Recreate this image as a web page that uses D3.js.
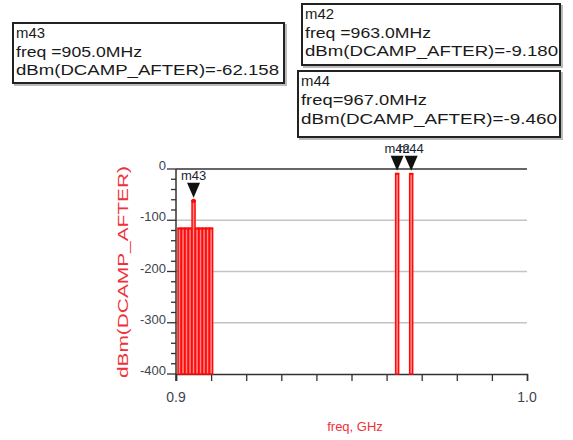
<!DOCTYPE html>
<html>
<head>
<meta charset="utf-8">
<script src="https://cdn.jsdelivr.net/npm/d3@7"></script>
<style>
  body { margin: 0; background: #fff; }
  svg { display: block; font-family: Arial, "Liberation Sans", sans-serif; }
</style>
</head>
<body>
<script>
// spectrum lines (GHz, dBm)
var freqs = [0.901, 0.902, 0.903, 0.904, 0.905, 0.906, 0.907, 0.908, 0.909, 0.910, 0.963, 0.967];
var levels = [-116, -116, -116, -116, -62.158, -116, -116, -116, -116, -116, -9.18, -9.46];

// markers
var markerNames = ['m43', 'm42', 'm44'];
var markerFreqs = [0.905, 0.963, 0.967];
var markerLevels = [-62.158, -9.18, -9.46];

var xTicks = [0.9, 1.0];
var yTicks = [0, -100, -200, -300, -400];

var W = 573, H = 440;
var svg = d3.select('body').append('svg').attr('width', W).attr('height', H);

var x = d3.scaleLinear().domain([0.9, 1.0]).range([176, 527]);
var y = d3.scaleLinear().domain([0, -400]).range([169, 374]);

//-------- grid + frame --------
svg.selectAll('.grid').data([-100, -200, -300]).enter().append('line')
  .attr('x1', x(0.9)).attr('x2', x(1.0))
  .attr('y1', function(d) { return y(d); }).attr('y2', function(d) { return y(d); })
  .attr('stroke', '#c4c4c4').attr('stroke-width', 1.3);

svg.append('line').attr('x1', x(0.9)).attr('x2', x(1.0)).attr('y1', y(0)).attr('y2', y(0))
  .attr('stroke', '#333').attr('stroke-width', 1.5);

// x axis
var xAxis = d3.axisBottom(x).tickValues(d3.range(0, 11).map(function(i) { return 0.9 + i * 0.01; }))
  .tickSize(7).tickFormat('');
var gx = svg.append('g').attr('transform', 'translate(0,' + y(-400) + ')').call(xAxis);
gx.select('.domain').attr('stroke', '#333').attr('stroke-width', 1.5);
gx.selectAll('.tick line').attr('stroke', '#333').attr('stroke-width', 1.3);

svg.selectAll('.xlab').data(xTicks).enter().append('text')
  .attr('x', function(d) { return x(d); }).attr('y', 402)
  .attr('text-anchor', 'middle').attr('font-size', 14).attr('fill', '#3d4450')
  .text(function(d) { return d3.format('.1f')(d); });

// y axis
var yMinor = d3.range(0, 21).map(function(i) { return -i * 20; });
svg.append('line').attr('x1', x(0.9)).attr('x2', x(0.9)).attr('y1', y(0)).attr('y2', y(-400) + 7)
  .attr('stroke', '#333').attr('stroke-width', 1.5);
svg.selectAll('.ytick').data(yMinor).enter().append('line')
  .attr('x1', function(d) { return x(0.9) - (d % 100 === 0 ? 9 : 5); }).attr('x2', x(0.9))
  .attr('y1', function(d) { return y(d); }).attr('y2', function(d) { return y(d); })
  .attr('stroke', '#333').attr('stroke-width', 1.3);
svg.selectAll('.ylab').data(yTicks).enter().append('text')
  .attr('x', x(0.9) - 10).attr('y', function(d) { return y(d) + 1; })
  .attr('text-anchor', 'end').attr('font-size', 13).attr('fill', '#3d4450')
  .text(function(d) { return d; });

// axis titles
svg.append('text').attr('x', 355).attr('y', 431).attr('text-anchor', 'middle')
  .attr('font-size', 13).attr('fill', '#f0303a').text('freq, GHz');
svg.append('text').attr('transform', 'translate(128,272) rotate(-90)').attr('text-anchor', 'middle')
  .attr('font-size', 14).attr('fill', '#f0303a')
  .attr('textLength', 212).attr('lengthAdjust', 'spacingAndGlyphs').text('dBm(DCAMP_AFTER)');

//-------- spectrum stems --------
var stems = freqs.map(function(f, i) { return { f: f, v: levels[i] }; });
svg.selectAll('.stem').data(stems).enter().append('rect')
  .attr('x', function(d) { return x(d.f) - 1.5; }).attr('width', 3)
  .attr('y', function(d) { return y(d.v); }).attr('height', function(d) { return y(-400) - y(d.v); })
  .attr('fill', '#ff8a8a').attr('stroke', '#ff0a0a').attr('stroke-width', 1.5);
svg.selectAll('.cap').data(stems).enter().append('line')
  .attr('x1', function(d) { return x(d.f - 0.0006); }).attr('x2', function(d) { return x(d.f + 0.0006); })
  .attr('y1', function(d) { return y(d.v); }).attr('y2', function(d) { return y(d.v); })
  .attr('stroke', '#ff0a0a').attr('stroke-width', 2);
svg.append('circle').attr('cx', x(0.905)).attr('cy', y(-62.158)).attr('r', 2.2).attr('fill', '#ff0a0a');

//-------- markers --------
var marks = markerNames.map(function(n, i) { return { n: n, f: markerFreqs[i], v: markerLevels[i] }; });
svg.selectAll('.tri').data(marks).enter().append('path')
  .attr('d', function(d) {
    var cx = x(d.f), ay = y(d.v) - 3;
    return 'M' + (cx - 6.5) + ',' + (ay - 15) + 'L' + (cx + 6.5) + ',' + (ay - 15) + 'L' + cx + ',' + ay + 'Z';
  })
  .attr('fill', '#111');
svg.selectAll('.mlab').data(marks).enter().append('text')
  .attr('x', function(d) { return x(d.f); }).attr('y', function(d) { return y(d.v) - 21; })
  .attr('text-anchor', 'middle').attr('font-size', 13).attr('fill', '#1a1f33')
  .text(function(d) { return d.n; });

//-------- readout boxes --------
var boxes = [
  { n: 'm43', f: '905.0', v: '-62.158', sp: ' ', x: 13, y: 23, w: 271, h: 60, tw: 263 },
  { n: 'm42', f: '963.0', v: '-9.180', sp: ' ', x: 302, y: 4, w: 258, h: 61, tw: 253 },
  { n: 'm44', f: '967.0', v: '-9.460', sp: '', x: 298, y: 71, w: 262, h: 66, tw: 256 }
];
boxes.forEach(function(b) {
  svg.append('rect').attr('x', b.x + 2).attr('y', b.y + 2).attr('width', b.w).attr('height', b.h)
    .attr('fill', 'none').attr('stroke', '#bbb').attr('stroke-width', 2);
  svg.append('rect').attr('x', b.x).attr('y', b.y).attr('width', b.w).attr('height', b.h)
    .attr('fill', '#fff').attr('stroke', '#222').attr('stroke-width', 2);
  var lines = [b.n, 'freq' + b.sp + '=' + b.f + 'MHz', 'dBm(DCAMP_AFTER)=' + b.v];
  var lens = [29, 126, b.tw];
  var step = b.h > 62 ? 19 : 18.5;
  lines.forEach(function(t, i) {
    svg.append('text').attr('x', b.x + 3).attr('y', b.y + 15 + i * step)
      .attr('font-size', 15.5).attr('fill', '#1a1a1a')
      .attr('textLength', lens[i]).attr('lengthAdjust', 'spacingAndGlyphs')
      .text(t);
  });
});
</script>
</body>
</html>
